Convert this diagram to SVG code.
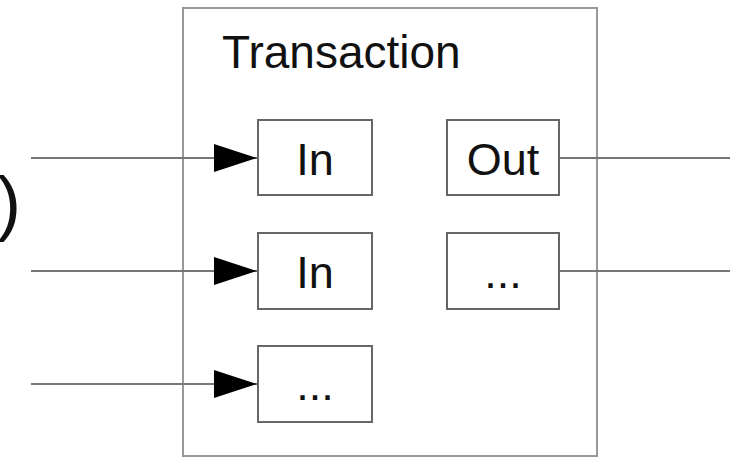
<svg xmlns="http://www.w3.org/2000/svg" width="730" height="460" viewBox="0 0 730 460">
<defs>
<style>
.box{fill:#ffffff;stroke:#666666;stroke-width:2}
.outer{fill:#ffffff;stroke:#999999;stroke-width:2}
.lbl{font-family:"Liberation Sans",Arial,sans-serif;fill:#111111}
.wire{stroke:#777777;stroke-width:2;fill:none}
</style>
<marker id="arr" markerUnits="userSpaceOnUse" markerWidth="46" markerHeight="30" refX="44" refY="15" orient="auto">
<path d="M1,1 L44,15 L1,29 Z" fill="#000000"/>
</marker>
</defs>
<rect width="730" height="460" fill="#ffffff"/>
<text class="lbl" x="-3" y="227" font-size="72">)</text>
<g id="transaction">
<rect class="outer" x="183" y="8" width="414" height="448"/>
<text class="lbl" x="222" y="68" font-size="46">Transaction</text>
</g>
<g id="connectors">
<line class="wire" x1="31" y1="158" x2="257" y2="158" marker-end="url(#arr)"/>
<line class="wire" x1="31" y1="271" x2="257" y2="271" marker-end="url(#arr)"/>
<line class="wire" x1="31" y1="384" x2="257" y2="384" marker-end="url(#arr)"/>
<line class="wire" x1="559" y1="158" x2="730" y2="158"/>
<line class="wire" x1="559" y1="271" x2="730" y2="271"/>
</g>
<g id="in1">
<rect class="box" x="258" y="120" width="114" height="75"/>
<text class="lbl" x="315" y="175" font-size="45" text-anchor="middle">In</text>
</g>
<g id="in2">
<rect class="box" x="258" y="233" width="114" height="76"/>
<text class="lbl" x="315" y="288" font-size="45" text-anchor="middle">In</text>
</g>
<g id="in3">
<rect class="box" x="258" y="346" width="114" height="76"/>
<text class="lbl" x="315" y="400" font-size="45" text-anchor="middle">...</text>
</g>
<g id="out1">
<rect class="box" x="447" y="120" width="112" height="75"/>
<text class="lbl" x="503" y="175" font-size="45" text-anchor="middle">Out</text>
</g>
<g id="out2">
<rect class="box" x="447" y="233" width="112" height="76"/>
<text class="lbl" x="503" y="288" font-size="45" text-anchor="middle">...</text>
</g>
</svg>
